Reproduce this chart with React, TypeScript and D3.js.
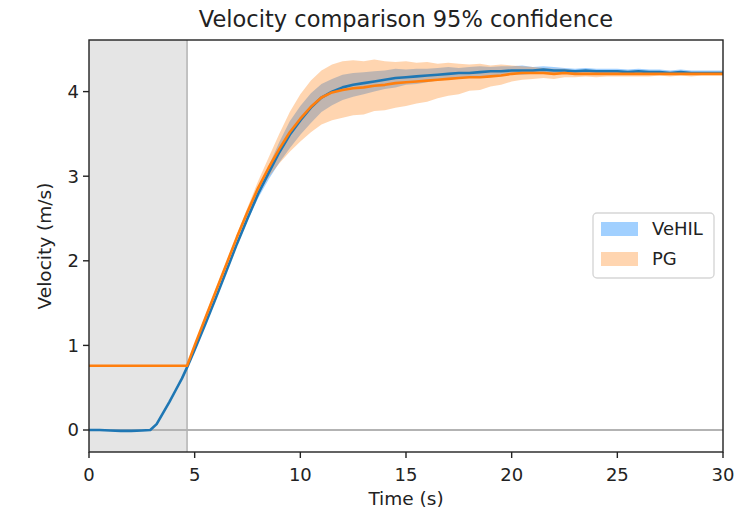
import React from "react";
import * as d3 from "d3";

const time = [0, 0.5, 1, 1.5, 2, 2.5, 2.9, 3.2, 3.5, 3.8, 4.1, 4.4, 4.64,
  5, 5.5, 6, 6.5, 7, 7.5, 8, 8.5, 9, 9.5, 10, 10.5, 11, 11.5, 12, 12.5, 13, 13.5, 14, 14.5, 15, 15.5,
  16, 16.5, 17, 17.5, 18, 18.5, 19, 19.5, 20, 20.5, 21, 21.5, 22, 22.5, 23, 23.5, 24, 24.5, 25, 25.5,
  26, 26.5, 27, 27.5, 28, 28.5, 29, 29.5, 30];

const vehilMean = [0, 0, -0.005, -0.01, -0.01, -0.005, 0.0, 0.07, 0.2, 0.33, 0.47, 0.61, 0.74,
  0.95, 1.25, 1.56, 1.88, 2.2, 2.5, 2.79, 3.04, 3.28, 3.49, 3.66, 3.81, 3.93, 4.0, 4.05, 4.08, 4.1, 4.12,
  4.14, 4.16, 4.17, 4.18, 4.19, 4.2, 4.21, 4.22, 4.22, 4.23, 4.24, 4.24, 4.25, 4.25, 4.25, 4.26, 4.25, 4.25,
  4.24, 4.25, 4.24, 4.24, 4.24, 4.23, 4.24, 4.23, 4.23, 4.22, 4.23, 4.22, 4.22, 4.22, 4.22];
const vehilLo = [0, 0, -0.01, -0.015, -0.015, -0.01, -0.005, 0.06, 0.19, 0.32, 0.46, 0.6, 0.73,
  0.94, 1.24, 1.54, 1.86, 2.18, 2.47, 2.74, 2.96, 3.16, 3.33, 3.49, 3.63, 3.76, 3.84, 3.9, 3.94, 3.97, 4.0,
  4.03, 4.05, 4.08, 4.09, 4.11, 4.13, 4.14, 4.16, 4.16, 4.17, 4.19, 4.19, 4.21, 4.2, 4.21, 4.22, 4.21, 4.22,
  4.21, 4.22, 4.21, 4.21, 4.21, 4.2, 4.21, 4.2, 4.2, 4.2, 4.2, 4.2, 4.2, 4.2, 4.2];
const vehilHi = [0, 0.005, 0, -0.005, -0.005, 0, 0.005, 0.08, 0.21, 0.34, 0.48, 0.62, 0.75,
  0.96, 1.27, 1.58, 1.9, 2.23, 2.54, 2.84, 3.12, 3.4, 3.65, 3.83, 3.98, 4.09, 4.15, 4.2, 4.22, 4.23, 4.24,
  4.25, 4.27, 4.26, 4.27, 4.27, 4.28, 4.29, 4.28, 4.29, 4.3, 4.29, 4.3, 4.3, 4.31, 4.29, 4.3, 4.29, 4.28,
  4.27, 4.28, 4.27, 4.27, 4.27, 4.26, 4.27, 4.26, 4.26, 4.25, 4.26, 4.25, 4.25, 4.25, 4.25];

const pgMean = [0.76, 0.76, 0.76, 0.76, 0.76, 0.76, 0.76, 0.76, 0.76, 0.76, 0.76, 0.76, 0.76,
  1.0, 1.32, 1.64, 1.96, 2.28, 2.58, 2.86, 3.1, 3.32, 3.52, 3.68, 3.82, 3.93, 3.99, 4.02, 4.04, 4.05, 4.07,
  4.08, 4.1, 4.11, 4.12, 4.13, 4.14, 4.15, 4.16, 4.17, 4.17, 4.18, 4.19, 4.21, 4.22, 4.22, 4.22, 4.21, 4.22,
  4.21, 4.21, 4.21, 4.21, 4.21, 4.21, 4.21, 4.21, 4.21, 4.21, 4.21, 4.21, 4.21, 4.21, 4.21];
const pgLo = [0.755, 0.755, 0.755, 0.755, 0.755, 0.755, 0.755, 0.755, 0.755, 0.755, 0.755, 0.755, 0.755,
  0.98, 1.3, 1.62, 1.94, 2.25, 2.54, 2.79, 2.99, 3.15, 3.29, 3.41, 3.52, 3.61, 3.66, 3.69, 3.72, 3.73, 3.77,
  3.78, 3.81, 3.83, 3.86, 3.88, 3.92, 3.95, 3.97, 4.01, 4.02, 4.06, 4.08, 4.12, 4.14, 4.15, 4.16, 4.15, 4.17,
  4.17, 4.18, 4.17, 4.18, 4.18, 4.18, 4.18, 4.18, 4.19, 4.18, 4.19, 4.18, 4.19, 4.19, 4.19];
const pgHi = [0.765, 0.765, 0.765, 0.765, 0.765, 0.765, 0.765, 0.765, 0.765, 0.765, 0.765, 0.765, 0.765,
  1.02, 1.35, 1.67, 1.99, 2.31, 2.63, 2.94, 3.22, 3.5, 3.76, 3.97, 4.13, 4.25, 4.32, 4.36, 4.37, 4.36, 4.38,
  4.36, 4.35, 4.36, 4.34, 4.35, 4.33, 4.34, 4.33, 4.32, 4.33, 4.31, 4.32, 4.31, 4.3, 4.29, 4.28, 4.27, 4.27,
  4.25, 4.25, 4.24, 4.24, 4.24, 4.24, 4.23, 4.24, 4.23, 4.23, 4.23, 4.23, 4.23, 4.23, 4.23];

const xTicks = [0, 5, 10, 15, 20, 25, 30];
const yTicks = [0, 1, 2, 3, 4];
const shadeEnd = 4.64;
const seriesNames = ["VeHIL", "PG"];

const W = 754, H = 512;
const L = 89, R = 723, T = 40, B = 452;
const FONT = "DejaVu Sans, sans-serif";

export default function App() {
  const x = d3.scaleLinear().domain([0, 30]).range([L, R]);
  const y = d3.scaleLinear().domain([-0.26, 4.61]).range([B, T]);
  const idx = d3.range(time.length);
  const area = (lo: number[], hi: number[]) =>
    d3.area<number>().x((i) => x(time[i])).y0((i) => y(lo[i])).y1((i) => y(hi[i]))(idx) || "";
  const line = (m: number[]) =>
    d3.line<number>().x((i) => x(time[i])).y((i) => y(m[i]))(idx) || "";

  const blueFill = "#1e90ff";
  const blueOp = 0.42;
  const orangeFill = "#ff7f0e";
  const orangeOp = 0.33;

  return (
    <svg width={W} height={H} style={{ position: "absolute", left: 0, top: 0, background: "#fff" }}>
      <rect x={0} y={0} width={W} height={H} fill="#fff" />
      <defs>
        <clipPath id="plot">
          <rect x={L} y={T} width={R - L} height={B - T} />
        </clipPath>
      </defs>
      <g clipPath="url(#plot)">
        <rect x={x(0)} y={T} width={x(shadeEnd) - x(0)} height={B - T} fill="#e5e5e5" />
        <line x1={L} x2={R} y1={y(0)} y2={y(0)} stroke="#b3b3b3" strokeWidth={2} />
        <line x1={x(shadeEnd)} x2={x(shadeEnd)} y1={T} y2={B} stroke="#b3b3b3" strokeWidth={1.5} />
        <path d={area(vehilLo, vehilHi)} fill={blueFill} fillOpacity={blueOp} />
        <path d={area(pgLo, pgHi)} fill={orangeFill} fillOpacity={orangeOp} />
        <path d={line(vehilMean)} fill="none" stroke="#1f77b4" strokeWidth={2.6} strokeLinejoin="round" />
        <path d={line(pgMean)} fill="none" stroke="#ff7f0e" strokeWidth={2.6} strokeLinejoin="round" />
      </g>
      <rect x={L} y={T} width={R - L} height={B - T} fill="none" stroke="#222" strokeWidth={1.4} />
      {xTicks.map((t) => (
        <g key={"x" + t}>
          <line x1={x(t)} x2={x(t)} y1={B} y2={B + 6} stroke="#222" strokeWidth={1.4} />
          <text x={x(t)} y={B + 29} textAnchor="middle" fontFamily={FONT} fontSize={18} fill="#222">{t}</text>
        </g>
      ))}
      {yTicks.map((t) => (
        <g key={"y" + t}>
          <line x1={L - 6} x2={L} y1={y(t)} y2={y(t)} stroke="#222" strokeWidth={1.4} />
          <text x={L - 10} y={y(t)} dy="0.35em" textAnchor="end" fontFamily={FONT} fontSize={18} fill="#222">{t}</text>
        </g>
      ))}
      <text x={(L + R) / 2} y={505} textAnchor="middle" fontFamily={FONT} fontSize={18.5} fill="#222">Time (s)</text>
      <text transform={`translate(51,${(T + B) / 2}) rotate(-90)`} textAnchor="middle" fontFamily={FONT} fontSize={18.5} fill="#222">Velocity (m/s)</text>
      <text x={(L + R) / 2} y={27} textAnchor="middle" fontFamily={FONT} fontSize={22.5} fill="#222">Velocity comparison 95% confidence</text>
      <g>
        <rect x={593} y={213} width={121} height={65} rx={4} fill="#fff" fillOpacity={0.8} stroke="#d6d6d6" strokeWidth={1.4} />
        {seriesNames.map((n, i) => (
          <g key={n}>
            <rect x={601} y={222 + i * 30} width={37} height={14}
              fill={i === 0 ? blueFill : orangeFill} fillOpacity={i === 0 ? blueOp : orangeOp} />
            <text x={652} y={229 + i * 30} dy="0.35em" fontFamily={FONT} fontSize={18} fill="#222">{n}</text>
          </g>
        ))}
      </g>
    </svg>
  );
}
